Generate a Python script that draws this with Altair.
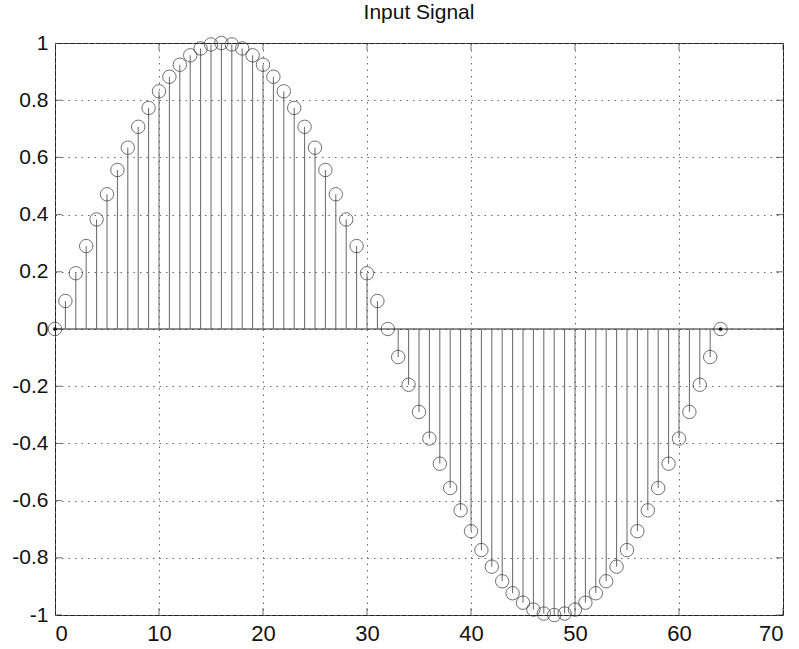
import altair as alt
import pandas as pd

# Sample index and sampled signal value
n = list(range(65))
signal = [
    0.000, 0.098, 0.195, 0.290, 0.383, 0.471, 0.556, 0.634, 0.707, 0.773,
    0.831, 0.882, 0.924, 0.957, 0.981, 0.995, 1.000, 0.995, 0.981, 0.957,
    0.924, 0.882, 0.831, 0.773, 0.707, 0.634, 0.556, 0.471, 0.383, 0.290,
    0.195, 0.098, 0.000, -0.098, -0.195, -0.290, -0.383, -0.471, -0.556, -0.634,
    -0.707, -0.773, -0.831, -0.882, -0.924, -0.957, -0.981, -0.995, -1.000, -0.995,
    -0.981, -0.957, -0.924, -0.882, -0.831, -0.773, -0.707, -0.634, -0.556, -0.471,
    -0.383, -0.290, -0.195, -0.098, 0.000,
]

x_ticks = [0, 10, 20, 30, 40, 50, 60, 70]
y_ticks = [-1, -0.8, -0.6, -0.4, -0.2, 0, 0.2, 0.4, 0.6, 0.8, 1]
dot_positions = [0, 64]

df = pd.DataFrame({"n": n, "value": signal, "zero": [0.0] * len(n)})
dots = pd.DataFrame({"n": dot_positions, "value": [0.0] * len(dot_positions)})

FONT = "Liberation Sans"

x_scale = alt.Scale(domain=[0, 70], nice=False, zero=False)
y_scale = alt.Scale(domain=[-1, 1], nice=False, zero=False)

grid_color = "#666666"
grid_dash = [1.5, 5]

x_axis = alt.Axis(
    values=x_ticks, grid=True, gridColor=grid_color, gridDash=grid_dash,
    gridOpacity=1, gridWidth=1, ticks=False, domain=False, title=None,
    labelFont=FONT, labelFontSize=22, labelColor="#111111", labelPadding=8,
)
y_axis = alt.Axis(
    values=y_ticks, grid=True, gridColor=grid_color, gridDash=grid_dash,
    gridOpacity=1, gridWidth=1, ticks=False, domain=False, title=None,
    labelFont=FONT, labelFontSize=21, labelColor="#111111", labelPadding=7,
    labelExpr="replace(format(datum.value, '.1~f'), '\u2212', '-')",
)

base = alt.Chart(df)

# Axes-only layer carrying the grid
axes = base.mark_point(opacity=0).encode(
    x=alt.X("n:Q", scale=x_scale, axis=x_axis),
    y=alt.Y("value:Q", scale=y_scale, axis=y_axis),
)

# Baseline across the full x range
baseline = alt.Chart(pd.DataFrame({"y": [0.0]})).mark_rule(
    color="#222222", strokeWidth=1
).encode(y=alt.Y("y:Q", scale=y_scale))

# Stems from zero to each sample value
stems = base.mark_rule(color="#666666", strokeWidth=1).encode(
    x=alt.X("n:Q", scale=x_scale),
    y=alt.Y("zero:Q", scale=y_scale),
    y2="value:Q",
)

# Hollow circle markers at each sample
markers = base.mark_point(
    shape="circle", filled=False, size=180, color="#333333", strokeWidth=1
).encode(
    x=alt.X("n:Q", scale=x_scale),
    y=alt.Y("value:Q", scale=y_scale),
)

end_dots = alt.Chart(dots).mark_point(
    shape="circle", filled=True, size=14, color="#111111", opacity=1
).encode(
    x=alt.X("n:Q", scale=x_scale),
    y=alt.Y("value:Q", scale=y_scale),
)

# Inward tick marks on all four sides
xt = pd.DataFrame({"t": x_ticks})
yt = pd.DataFrame({"t": y_ticks})
tick_color = "#333333"
x_ticks_bottom = alt.Chart(xt).mark_tick(
    orient="vertical", size=14, thickness=1, color=tick_color, clip=True
).encode(x=alt.X("t:Q", scale=x_scale), y=alt.datum(-1, scale=y_scale))
x_ticks_top = alt.Chart(xt).mark_tick(
    orient="vertical", size=14, thickness=1, color=tick_color, clip=True
).encode(x=alt.X("t:Q", scale=x_scale), y=alt.datum(1, scale=y_scale))
y_ticks_left = alt.Chart(yt).mark_tick(
    orient="horizontal", size=14, thickness=1, color=tick_color, clip=True
).encode(y=alt.Y("t:Q", scale=y_scale), x=alt.datum(0, scale=x_scale))
y_ticks_right = alt.Chart(yt).mark_tick(
    orient="horizontal", size=14, thickness=1, color=tick_color, clip=True
).encode(y=alt.Y("t:Q", scale=y_scale), x=alt.datum(70, scale=x_scale))

chart = alt.layer(
    axes, x_ticks_bottom, x_ticks_top, y_ticks_left, y_ticks_right,
    baseline, stems, markers, end_dots,
).properties(
    width=728,
    height=572,
    title=alt.TitleParams(
        "Input Signal", font=FONT, fontSize=21, fontWeight="normal",
        color="#111111", anchor="middle", offset=9,
    ),
    autosize=alt.AutoSizeParams(type="none"),
    padding={"left": 55, "top": 43, "right": 16, "bottom": 34},
    background="white",
).configure_view(
    stroke="#222222", strokeWidth=1,
)

chart.save("out.html", embed_options={"renderer": "svg", "actions": False})
